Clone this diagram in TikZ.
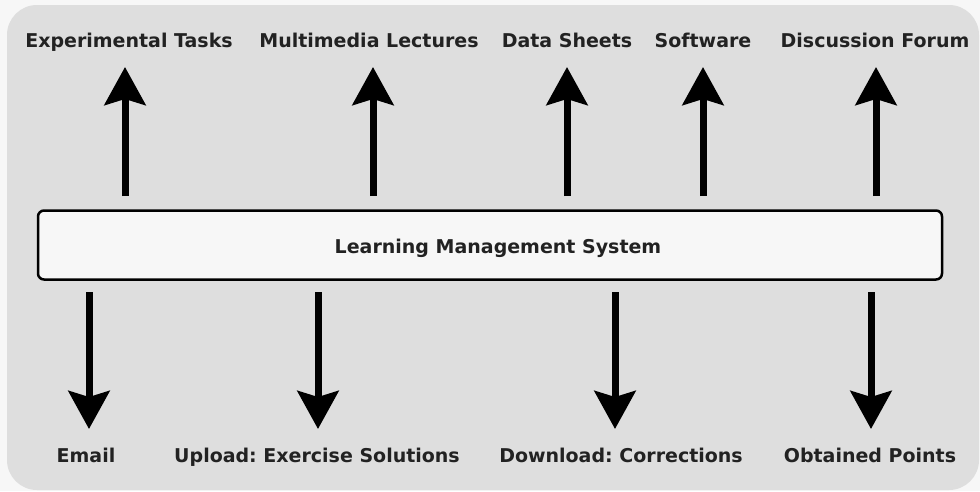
\documentclass[tikz,border=0pt]{standalone}
\usepackage{fontspec}
\setmainfont{DejaVu Sans}
\usetikzlibrary{arrows.meta}
\frenchspacing
\definecolor{panel}{HTML}{DEDEDE}
\definecolor{outer}{HTML}{F7F7F7}
\definecolor{boxfill}{HTML}{F7F7F7}
\definecolor{ink}{HTML}{222222}
\begin{document}
\begin{tikzpicture}[x=1pt,y=-1pt,
  lbl/.style={text=ink,font=\bfseries\fontsize{19}{22}\selectfont,inner sep=0pt,anchor=base},
  flow/.style={line width=7pt,draw=black,-{Stealth[length=38pt,width=41pt,inset=6pt]}},
  lms/.style={draw=black,line width=2.5pt,fill=boxfill,rounded corners=6pt,minimum width=904pt,minimum height=69pt,inner sep=0pt}]
  % page and panel
  \fill[outer] (0,0) rectangle (980,491);
  \useasboundingbox (0,0) rectangle (980,491);
  \fill[panel,rounded corners=30pt] (7,5) rectangle (979,490);
  % central system box
  \node[lms] (sys) at (490,245) {};
  \node[lbl] (syslbl) at (498,253) {Learning Management System};
  % outputs above
  \node[lbl] (t1) at (129,47) {Experimental Tasks};
  \node[lbl] (t2) at (369,47) {Multimedia Lectures};
  \node[lbl] (t3) at (567,47) {Data Sheets};
  \node[lbl] (t4) at (703,47) {Software};
  \node[lbl] (t5) at (875,47) {Discussion Forum};
  % outputs below
  \node[lbl] (b1) at (86,462) {Email};
  \node[lbl] (b2) at (317,462) {Upload: Exercise Solutions};
  \node[lbl] (b3) at (621,462) {Download: Corrections};
  \node[lbl] (b4) at (870,462) {Obtained Points};
  % arrow end points
  \coordinate (u1s) at (125,196); \coordinate (u1e) at (125,67);
  \coordinate (u2s) at (373,196); \coordinate (u2e) at (373,67);
  \coordinate (u3s) at (567,196); \coordinate (u3e) at (567,67);
  \coordinate (u4s) at (703,196); \coordinate (u4e) at (703,67);
  \coordinate (u5s) at (876,196); \coordinate (u5e) at (876,67);
  \coordinate (d1s) at (89,292);  \coordinate (d1e) at (89,429);
  \coordinate (d2s) at (318,292); \coordinate (d2e) at (318,429);
  \coordinate (d3s) at (615,292); \coordinate (d3e) at (615,429);
  \coordinate (d4s) at (871,292); \coordinate (d4e) at (871,429);
  \foreach \i in {1,...,5} {\draw[flow] (u\i s) -- (u\i e);}
  \foreach \i in {1,...,4} {\draw[flow] (d\i s) -- (d\i e);}
\end{tikzpicture}
\end{document}
